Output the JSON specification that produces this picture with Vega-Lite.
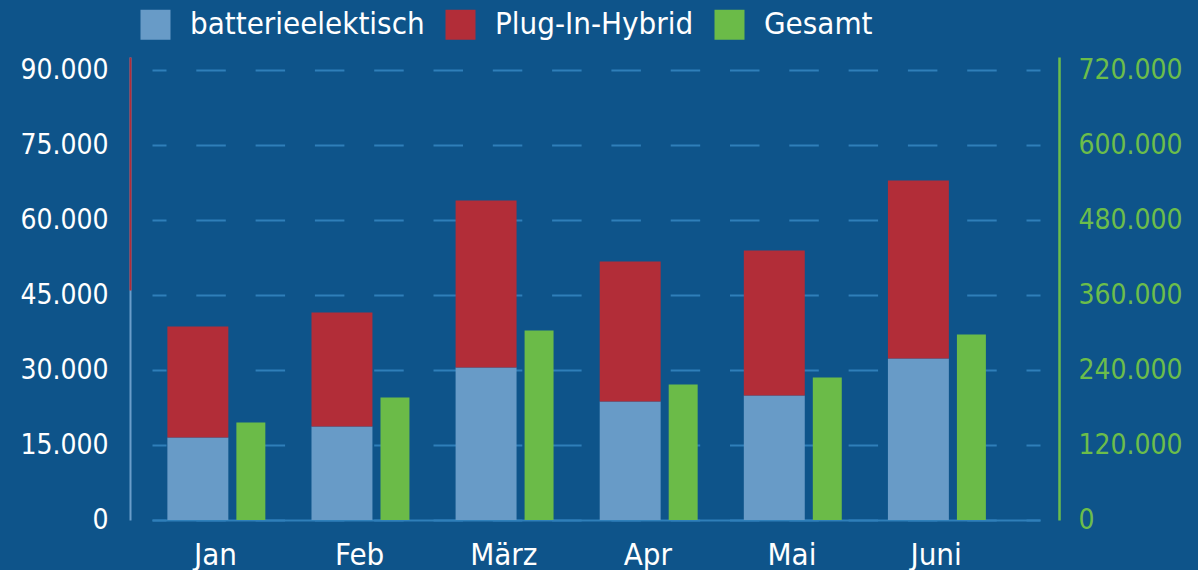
{
  "$schema": "https://vega.github.io/schema/vega-lite/v6.json",
  "width": 888,
  "height": 463,
  "autosize": {"type": "none"},
  "padding": {"left": 152, "top": 57, "right": 158, "bottom": 50},
  "background": "#0e548a",
  "config": {
    "view": {"stroke": null},
    "font": "Liberation Sans Narrow, DejaVu Sans Condensed, sans-serif"
  },
  "data": {
    "values": [
      {"monat": "Jan", "batterieelektrisch": 16500, "bev_plus_phev": 38700, "gesamt": 156000},
      {"monat": "Feb", "batterieelektrisch": 18700, "bev_plus_phev": 41500, "gesamt": 196000},
      {"monat": "März", "batterieelektrisch": 30500, "bev_plus_phev": 63900, "gesamt": 303200},
      {"monat": "Apr", "batterieelektrisch": 23700, "bev_plus_phev": 51700, "gesamt": 216800},
      {"monat": "Mai", "batterieelektrisch": 24900, "bev_plus_phev": 53900, "gesamt": 228000},
      {"monat": "Juni", "batterieelektrisch": 32300, "bev_plus_phev": 67900, "gesamt": 296800}
    ]
  },
  "encoding": {
    "x": {
      "field": "monat",
      "type": "nominal",
      "sort": null,
      "scale": {"paddingInner": 0, "paddingOuter": 0.081, "align": 0},
      "axis": {
        "title": null,
        "labelAngle": 0,
        "ticks": false,
        "labelColor": "#ffffff",
        "labelFontSize": 31,
        "labelBaseline": "alphabetic",
        "labelPadding": 44,
        "labelOffset": -8.5,
        "domainColor": "#2f7fb9",
        "domainWidth": 2,
        "grid": false
      }
    }
  },
  "layer": [
    {
      "mark": {"type": "bar", "xOffset": -26.2, "width": {"band": 0.423}},
      "encoding": {
        "y": {
          "field": "batterieelektrisch",
          "type": "quantitative",
          "scale": {"domain": [0, 92600], "nice": false},
          "axis": {
            "title": null,
            "orient": "left",
            "offset": 22,
            "values": [0, 15000, 30000, 45000, 60000, 75000, 90000],
            "labelExpr": "replace(format(datum.value, ','), ',', '.')",
            "labelColor": "#ffffff",
            "labelFontSize": 28,
            "labelPadding": 22,
            "ticks": false,
            "domainColor": "#6a9dca",
            "domainWidth": 2,
            "grid": true,
            "gridColor": "#2f7fb9",
            "gridWidth": 2,
            "gridDash": [29.5, 29.8],
            "gridDashOffset": 15.5,
            "zindex": 0
          }
        },
        "color": {
          "datum": "batterieelektisch",
          "scale": {
            "domain": ["batterieelektisch", "Plug-In-Hybrid", "Gesamt"],
            "range": ["#689bc7", "#b22d38", "#6bbb48"]
          },
          "legend": {
            "title": null,
            "orient": "none",
            "direction": "horizontal",
            "legendX": -12,
            "legendY": -48,
            "padding": 0,
            "symbolType": "square",
            "symbolSize": 900,
            "symbolStrokeWidth": 0,
            "symbolOpacity": 1,
            "labelColor": "#ffffff",
            "labelFontSize": 31,
            "labelOffset": 19,
            "columnPadding": 20,
            "labelLimit": 400
          }
        }
      }
    },
    {
      "mark": {"type": "bar", "xOffset": -26.2, "width": {"band": 0.423}},
      "encoding": {
        "y": {
          "field": "bev_plus_phev",
          "type": "quantitative",
          "scale": {
            "domain": [46000, 92600],
            "range": [{"expr": "height*46600/92600"}, 0],
            "nice": false,
            "zero": false
          },
          "axis": {
            "title": null,
            "orient": "left",
            "offset": 22,
            "labels": false,
            "ticks": false,
            "grid": false,
            "domainColor": "#b22d38",
            "domainWidth": 2,
            "zindex": 1
          }
        },
        "y2": {"field": "batterieelektrisch"},
        "color": {"datum": "Plug-In-Hybrid"}
      }
    },
    {
      "mark": {"type": "bar", "xOffset": 26.8, "width": {"band": 0.201}},
      "encoding": {
        "y": {
          "field": "gesamt",
          "type": "quantitative",
          "scale": {"domain": [0, 740800], "nice": false},
          "axis": {
            "title": null,
            "orient": "right",
            "offset": 19,
            "values": [0, 120000, 240000, 360000, 480000, 600000, 720000],
            "labelExpr": "replace(format(datum.value, ','), ',', '.')",
            "labelColor": "#6cbd4a",
            "labelFontSize": 28,
            "labelPadding": 19,
            "ticks": false,
            "grid": false,
            "domainColor": "#6cbd4a",
            "domainWidth": 2.5
          }
        },
        "color": {"datum": "Gesamt"}
      }
    }
  ],
  "resolve": {"scale": {"y": "independent"}}
}
